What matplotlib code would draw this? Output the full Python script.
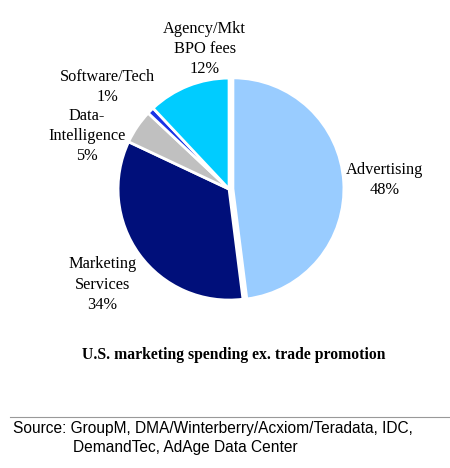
import matplotlib.pyplot as plt

labels = ['Advertising', 'Marketing\nServices', 'Data-\nIntelligence', 'Software/Tech', 'Agency/Mkt\nBPO fees']
shares = [48, 34, 5, 1, 12]
colors = ['#99CCFF', '#000F7A', '#C0C0C0', '#1A33E6', '#00CCFF']
explode = [0.035, 0, 0, 0, 0]
# label centres in axes data units (pie radius = 1)
label_pos = [(1.40, 0.08), (-1.14, -0.86), (-1.28, 0.48), (-1.10, 0.92), (-0.22, 1.26)]

fig = plt.figure(figsize=(4.5, 4.68), dpi=100)
ax = fig.add_axes([0.250, 0.347, 0.518, 0.498])
wedges, _ = ax.pie(shares, colors=colors, explode=explode, startangle=90, counterclock=False,
                   wedgeprops=dict(edgecolor='white', linewidth=2))
ax.set_xlim(-1.05, 1.05)
ax.set_ylim(-1.05, 1.05)

for lab, s, (x, y) in zip(labels, shares, label_pos):
    ax.text(x, y, lab + '\n' + str(s) + '%', ha='center', va='center',
            family='Liberation Serif', fontsize=11.8, linespacing=1.35, clip_on=False)

fig.text(0.52, 0.241, 'U.S. marketing spending ex. trade promotion', ha='center', va='center',
         family='Liberation Serif', fontsize=11.3, fontweight='bold')

fig.add_artist(plt.Line2D([0.022, 1], [0.109, 0.109], color='#999999', linewidth=0.8))
fig.text(0.029, 0.085, 'Source: GroupM, DMA/Winterberry/Acxiom/Teradata, IDC,', ha='left', va='center',
         family='Liberation Sans', fontsize=11.2)
fig.text(0.163, 0.043, 'DemandTec, AdAge Data Center', ha='left', va='center',
         family='Liberation Sans', fontsize=11.2)

fig.savefig('out.png', dpi=100)
